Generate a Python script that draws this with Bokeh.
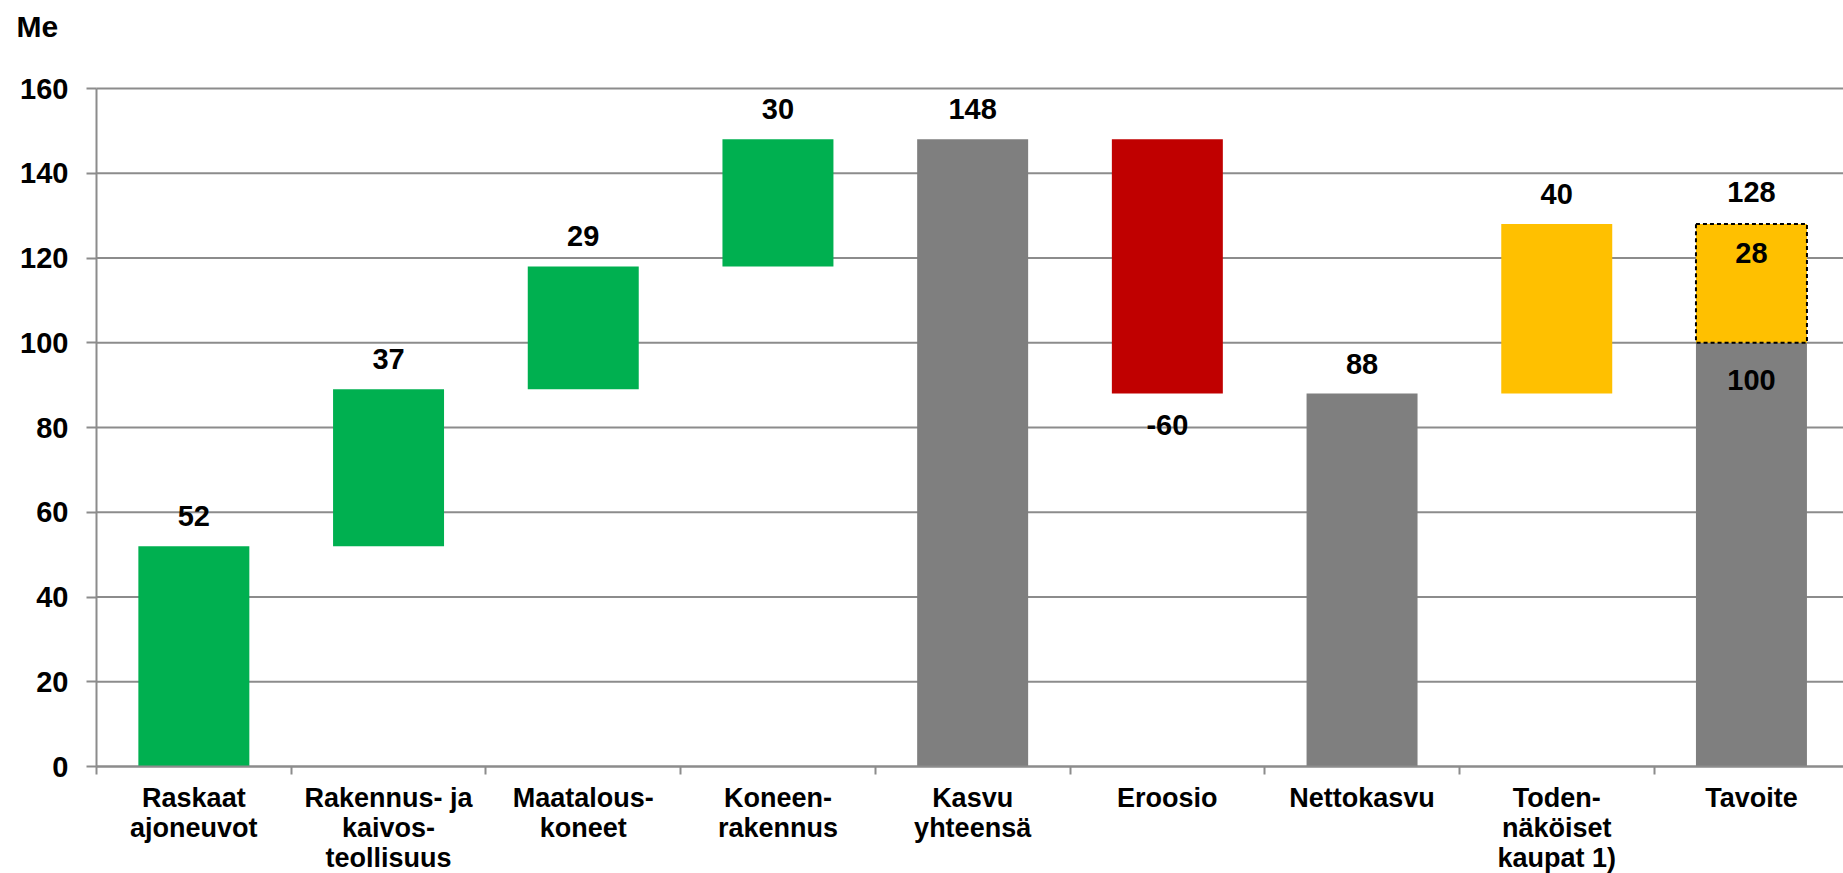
from bokeh.plotting import figure
from bokeh.models import ColumnDataSource, Range1d, FixedTicker, LabelSet, Label
from bokeh.core.properties import value
from bokeh.embed import file_html
from bokeh.resources import INLINE

# ---- data ----
categories = ["Raskaat\najoneuvot", "Rakennus- ja\nkaivos-\nteollisuus", "Maatalous-\nkoneet",
              "Koneen-\nrakennus", "Kasvu\nyhteensä", "Eroosio", "Nettokasvu",
              "Toden-\nnäköiset\nkaupat 1)", "Tavoite"]
values = [52, 37, 29, 30, 148, -60, 88, 40, 100]
kinds = ["increase", "increase", "increase", "increase", "total", "decrease", "total", "likely", "total"]
target_gap = 28          # dashed part on top of "Tavoite"
y_ticks = [0, 20, 40, 60, 80, 100, 120, 140, 160]
y_unit = "Me"

colors = {"increase": "#00B050", "total": "#7F7F7F", "decrease": "#C00000", "likely": "#FFC000"}
FONT = "Liberation Sans"
GRID = "#8C8C8C"

# ---- layout (pixels) ----
W, H = 1843, 873
LEFT_PX = 96         # position of value axis from left edge
TOP_PX = 88          # position of top gridline from top edge
ZERO_PX = 766        # position of the zero line from top edge
CAT_PX = 194.7       # width of one category

# ---- waterfall geometry from data ----
xs, bottoms, tops, cols = [], [], [], []
running = 0
for i, (v, k) in enumerate(zip(values, kinds)):
    if k == "total":
        b, t = 0, v
        running = v
    else:
        b, t = running, running + v
        running = t
    xs.append(i)
    bottoms.append(min(b, t))
    tops.append(max(b, t))
    cols.append(colors[k])

last = len(categories) - 1
target_total = values[last] + target_gap

# value labels
lab_x, lab_y, lab_txt, lab_off = [], [], [], []
for i, (v, k) in enumerate(zip(values, kinds)):
    if i == last:
        lab_x += [i, i, i]
        lab_y += [values[i], target_total, target_total]
        lab_txt += [str(values[i]), str(target_gap), str(target_total)]
        lab_off += [-37, -29, 32]
    elif k == "decrease":
        lab_x.append(i); lab_y.append(bottoms[i]); lab_txt.append(str(v)); lab_off.append(-31)
    else:
        lab_x.append(i); lab_y.append(tops[i]); lab_txt.append(str(v)); lab_off.append(30)

src = ColumnDataSource(dict(x=xs, bottom=bottoms, top=tops, color=cols))
lab_src = ColumnDataSource(dict(x=lab_x, y=lab_y, text=lab_txt, off=lab_off))

axis_x = -0.5
x_start = axis_x - LEFT_PX / CAT_PX
x_end = axis_x + (W - LEFT_PX) / CAT_PX
ppu = (ZERO_PX - TOP_PX) / (y_ticks[-1] - y_ticks[0])
y_start = y_ticks[0] - (H - ZERO_PX) / ppu
y_end = y_ticks[-1] + TOP_PX / ppu

p = figure(width=W, height=H, output_backend="svg", toolbar_location=None,
           x_range=Range1d(x_start, x_end), y_range=Range1d(y_start, y_end),
           min_border=0)
p.outline_line_color = None
p.background_fill_color = "white"

# horizontal gridlines (start at the value axis)
p.segment(x0=[axis_x] * len(y_ticks), x1=[x_end] * len(y_ticks), y0=y_ticks, y1=y_ticks,
          line_color=GRID, line_width=2)

p.vbar(x="x", bottom="bottom", top="top", width=0.57, fill_color="color", line_color=None, source=src)
p.vbar(x=[last], bottom=[values[last]], top=[target_total], width=0.57,
       fill_color=colors["likely"], line_color="black", line_width=2, line_dash="4 3")

# x axis at zero: labels at category centres, ticks at category boundaries
p.xaxis.fixed_location = y_ticks[0]
p.xaxis.bounds = (axis_x, x_end)
p.xaxis.ticker = FixedTicker(ticks=list(range(len(categories))),
                             minor_ticks=[i - 0.5 for i in range(len(categories) + 1)])
p.xaxis.major_label_overrides = {i: c for i, c in enumerate(categories)}
p.xaxis.major_label_text_font = FONT
p.xaxis.major_label_text_font_style = "bold"
p.xaxis.major_label_text_font_size = "27px"
p.xaxis.major_label_text_color = "black"
p.xaxis.major_label_text_line_height = 1.0
p.xaxis.major_label_standoff = 8
p.xaxis.major_tick_line_color = None
p.xaxis.major_tick_out = 0
p.xaxis.major_tick_in = 0
p.xaxis.minor_tick_line_color = GRID
p.xaxis.minor_tick_line_width = 2
p.xaxis.minor_tick_out = 8
p.xaxis.minor_tick_in = 0
p.xaxis.axis_line_color = GRID
p.xaxis.axis_line_width = 2

# y axis drawn inside the frame at the first category boundary
p.yaxis.fixed_location = axis_x
p.yaxis.bounds = (y_ticks[0], y_ticks[-1])
p.yaxis.ticker = FixedTicker(ticks=y_ticks)
p.yaxis.minor_tick_line_color = None
p.yaxis.major_tick_out = 10
p.yaxis.major_tick_in = 0
p.yaxis.major_tick_line_color = GRID
p.yaxis.major_tick_line_width = 2
p.yaxis.axis_line_color = GRID
p.yaxis.axis_line_width = 2
p.yaxis.major_label_standoff = 18
p.yaxis.major_label_text_font = FONT
p.yaxis.major_label_text_font_style = "bold"
p.yaxis.major_label_text_font_size = "29px"
p.yaxis.major_label_text_color = "black"

p.xgrid.visible = False
p.ygrid.visible = False

# value labels
p.add_layout(LabelSet(x="x", y="y", text="text", y_offset="off", source=lab_src,
                      text_align="center", text_baseline="middle", text_font=value(FONT),
                      text_font_style="bold", text_font_size="29px", text_color="black"))

# unit label above the value axis
p.add_layout(Label(x=axis_x, y=y_ticks[-1], x_offset=-80, y_offset=62, text=y_unit,
                   text_align="left", text_baseline="alphabetic", text_font=FONT,
                   text_font_style="bold", text_font_size="30px", text_color="black"))

open("out.html", "w").write(file_html(p, INLINE))
